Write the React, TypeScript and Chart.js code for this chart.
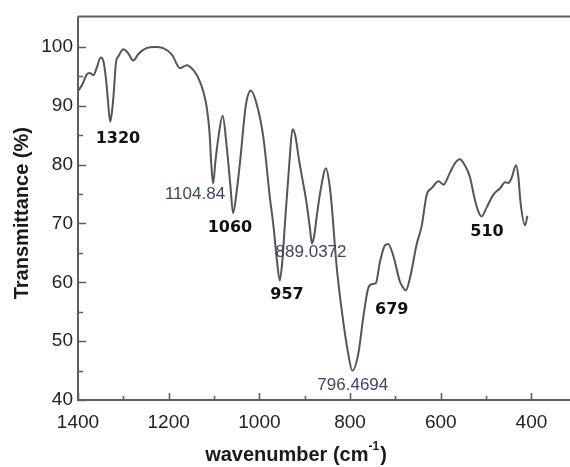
import React, { useEffect, useRef } from "react";
import { Chart, registerables } from "chart.js";

Chart.register(...registerables);

// Wavenumber (cm-1), descending
const wavenumbers = [
  1400, 1390, 1381, 1374, 1366, 1359, 1350, 1344, 1337, 1333, 1329, 1325, 1322, 1316, 1311,
  1300, 1289, 1278, 1267, 1249, 1230, 1212, 1193, 1175, 1160, 1146, 1135, 1124, 1116, 1110,
  1106, 1102, 1097, 1091, 1081, 1072, 1064, 1058, 1050, 1043, 1030, 1019, 1006, 991, 977,
  969, 961, 955, 949, 944, 934, 927, 921, 913, 905, 897, 889, 884, 879, 873, 866, 853,
  846, 841, 830, 819, 804, 795, 782, 771, 760, 752, 743, 734, 723, 716, 705,
  690, 682, 677, 668, 653, 642, 631, 620, 605, 594, 580, 569, 558, 547, 536,
  525, 516, 510, 499, 484, 469, 458, 451, 444, 434, 429, 424, 414, 409,
];

// Transmittance (%)
const transmittance = [
  92.5, 93.7, 95.3, 95.6, 95.2, 96.4, 98.2, 97.6, 93.6, 90.0, 87.3, 89.0, 91.4, 97.5, 98.4,
  99.6, 98.9, 97.7, 98.8, 99.8, 100.0, 99.8, 98.7, 96.4, 96.9, 96.1, 94.8, 92.5, 89.7, 85.5,
  80.0, 76.8, 80.5, 84.3, 88.3, 83.0, 76.5, 71.8, 75.5, 80.2, 90.0, 92.6, 90.3, 84.5, 74.5,
  69.6, 63.5, 60.3, 64.0, 69.6, 80.2, 86.0, 85.0, 81.0, 77.5, 74.0, 69.5, 66.6, 68.0, 71.5, 75.2, 79.4,
  77.0, 73.5, 63.0, 55.6, 47.8, 45.0, 47.8, 54.0, 59.0, 59.7, 59.9, 63.5, 66.3, 66.5, 64.6,
  60.1, 59.0, 58.6, 60.7, 66.5, 69.6, 74.9, 76.0, 77.2, 76.6, 78.6, 80.2, 80.9, 79.9, 78.0,
  74.1, 71.8, 71.2, 72.7, 74.9, 76.0, 77.0, 76.9, 77.7, 79.9, 78.0, 73.5, 69.7, 71.3,
];

const xTickValues = [400, 500, 600, 700, 800, 900, 1000, 1100, 1200, 1300, 1400];
const yTickValues = [40, 45, 50, 55, 60, 65, 70, 75, 80, 85, 90, 95, 100];

// Peak annotations: text, anchor wavenumber, anchor transmittance, bold?
const peakLabels = ["1320", "1104.84", "1060", "957", "889.0372", "796.4694", "679", "510"];
const peakLabelX = [1312, 1142, 1065, 939, 886, 794, 708, 498];
const peakLabelY = [84.4, 74.9, 69.3, 57.8, 65.1, 42.5, 55.3, 68.5];
const peakLabelBold = [true, false, true, true, false, false, true, true];

const X_TITLE = "wavenumber (cm";
const X_TITLE_SUP = "-1";
const Y_TITLE = "Transmittance (%)";

const decorPlugin = {
  id: "decor",
  afterDatasetsDraw(chart: any) {
    const { ctx, chartArea: ca, scales } = chart;
    const x = scales.x;
    const y = scales.y;
    ctx.save();
    ctx.strokeStyle = "#5e5e5e";
    ctx.lineWidth = 2;
    ctx.beginPath();
    ctx.moveTo(ca.left, ca.top);
    ctx.lineTo(ca.left, ca.bottom);
    ctx.lineTo(ca.right, ca.bottom);
    ctx.moveTo(ca.left, ca.top);
    ctx.lineTo(ca.right, ca.top);
    ctx.stroke();

    ctx.lineWidth = 1.6;
    ctx.beginPath();
    xTickValues.forEach((v) => {
      const px = Math.round(x.getPixelForValue(v)) + 0.5;
      const len = v % 200 === 0 ? 7 : 4;
      ctx.moveTo(px, ca.bottom);
      ctx.lineTo(px, ca.bottom - len);
    });
    yTickValues.forEach((v) => {
      const py = Math.round(y.getPixelForValue(v)) + 0.5;
      const len = v % 10 === 0 ? 8 : 5;
      ctx.moveTo(ca.left, py);
      ctx.lineTo(ca.left + len, py);
    });
    ctx.stroke();

    // peak labels
    ctx.textAlign = "center";
    ctx.textBaseline = "middle";
    peakLabels.forEach((t, i) => {
      const px = x.getPixelForValue(peakLabelX[i]);
      const py = y.getPixelForValue(peakLabelY[i]);
      if (peakLabelBold[i]) {
        ctx.font = "bold 16px 'DejaVu Sans'";
        ctx.fillStyle = "#111111";
      } else {
        ctx.font = "17px 'Liberation Sans', Arial";
        ctx.fillStyle = "#3c4868";
      }
      ctx.fillText(t, px, py);
    });

    // x title with superscript
    const mainFont = "bold 20px 'Liberation Sans', Arial";
    const supFont = "bold 12px 'Liberation Sans', Arial";
    ctx.font = mainFont;
    const w1 = ctx.measureText(X_TITLE).width;
    const w3 = ctx.measureText(")").width;
    ctx.font = supFont;
    const w2 = ctx.measureText(X_TITLE_SUP).width;
    const total = w1 + w2 + w3 + 1;
    const cx = ca.left + 218;
    const ty = ca.bottom + 55;
    let sx = cx - total / 2;
    ctx.textAlign = "left";
    ctx.fillStyle = "#1a1a1a";
    ctx.font = mainFont;
    ctx.fillText(X_TITLE, sx, ty);
    sx += w1;
    ctx.font = supFont;
    ctx.fillText(X_TITLE_SUP, sx, ty - 8);
    sx += w2 + 1;
    ctx.font = mainFont;
    ctx.fillText(")", sx, ty);

    // y title
    ctx.save();
    ctx.translate(22, (ca.top + ca.bottom) / 2 + 5);
    ctx.rotate(-Math.PI / 2);
    ctx.textAlign = "center";
    ctx.font = mainFont;
    ctx.fillText(Y_TITLE, 0, 0);
    ctx.restore();

    ctx.restore();
  },
};

export default function App() {
  const canvasRef = useRef<HTMLCanvasElement | null>(null);

  useEffect(() => {
    const canvas = canvasRef.current;
    if (!canvas) return;
    const points = wavenumbers.map((w, i) => ({ x: w, y: transmittance[i] }));
    const chart = new Chart(canvas, {
      type: "line",
      data: {
        datasets: [
          {
            data: points,
            borderColor: "#555555",
            borderWidth: 2,
            pointRadius: 0,
            fill: false,
            cubicInterpolationMode: "monotone",
          },
        ],
      },
      options: {
        animation: false,
        responsive: false,
        devicePixelRatio: 1,
        layout: { padding: { top: 11, left: 0, right: 0, bottom: 0 } },
        plugins: { legend: { display: false }, tooltip: { enabled: false } },
        scales: {
          x: {
            type: "linear",
            reverse: true,
            min: 315,
            max: 1400,
            grid: { display: false, drawTicks: false },
            border: { display: false },
            afterBuildTicks: (scale: any) => {
              scale.ticks = xTickValues.map((v) => ({ value: v }));
            },
            afterFit: (scale: any) => {
              scale.height = 67;
            },
            ticks: {
              autoSkip: false,
              maxRotation: 0,
              padding: 11,
              color: "#222222",
              font: { family: "'Liberation Sans', Arial", size: 19 },
              callback: (v: any) => (Number(v) % 200 === 0 ? String(v) : ""),
            },
          },
          y: {
            type: "linear",
            min: 40,
            max: 105.2,
            grid: { display: false, drawTicks: false },
            border: { display: false },
            afterBuildTicks: (scale: any) => {
              scale.ticks = yTickValues.map((v) => ({ value: v }));
            },
            afterFit: (scale: any) => {
              scale.width = 78;
            },
            ticks: {
              autoSkip: false,
              padding: 5,
              color: "#222222",
              font: { family: "'Liberation Sans', Arial", size: 19 },
              callback: (v: any) => (Number(v) % 10 === 0 ? String(v) : ""),
            },
          },
        },
      },
      plugins: [decorPlugin],
    });
    return () => chart.destroy();
  }, []);

  return (
    <div style={{ position: "fixed", left: 0, top: 0, width: 570, height: 467, background: "#ffffff" }}>
      <canvas ref={canvasRef} width={570} height={467} />
    </div>
  );
}
